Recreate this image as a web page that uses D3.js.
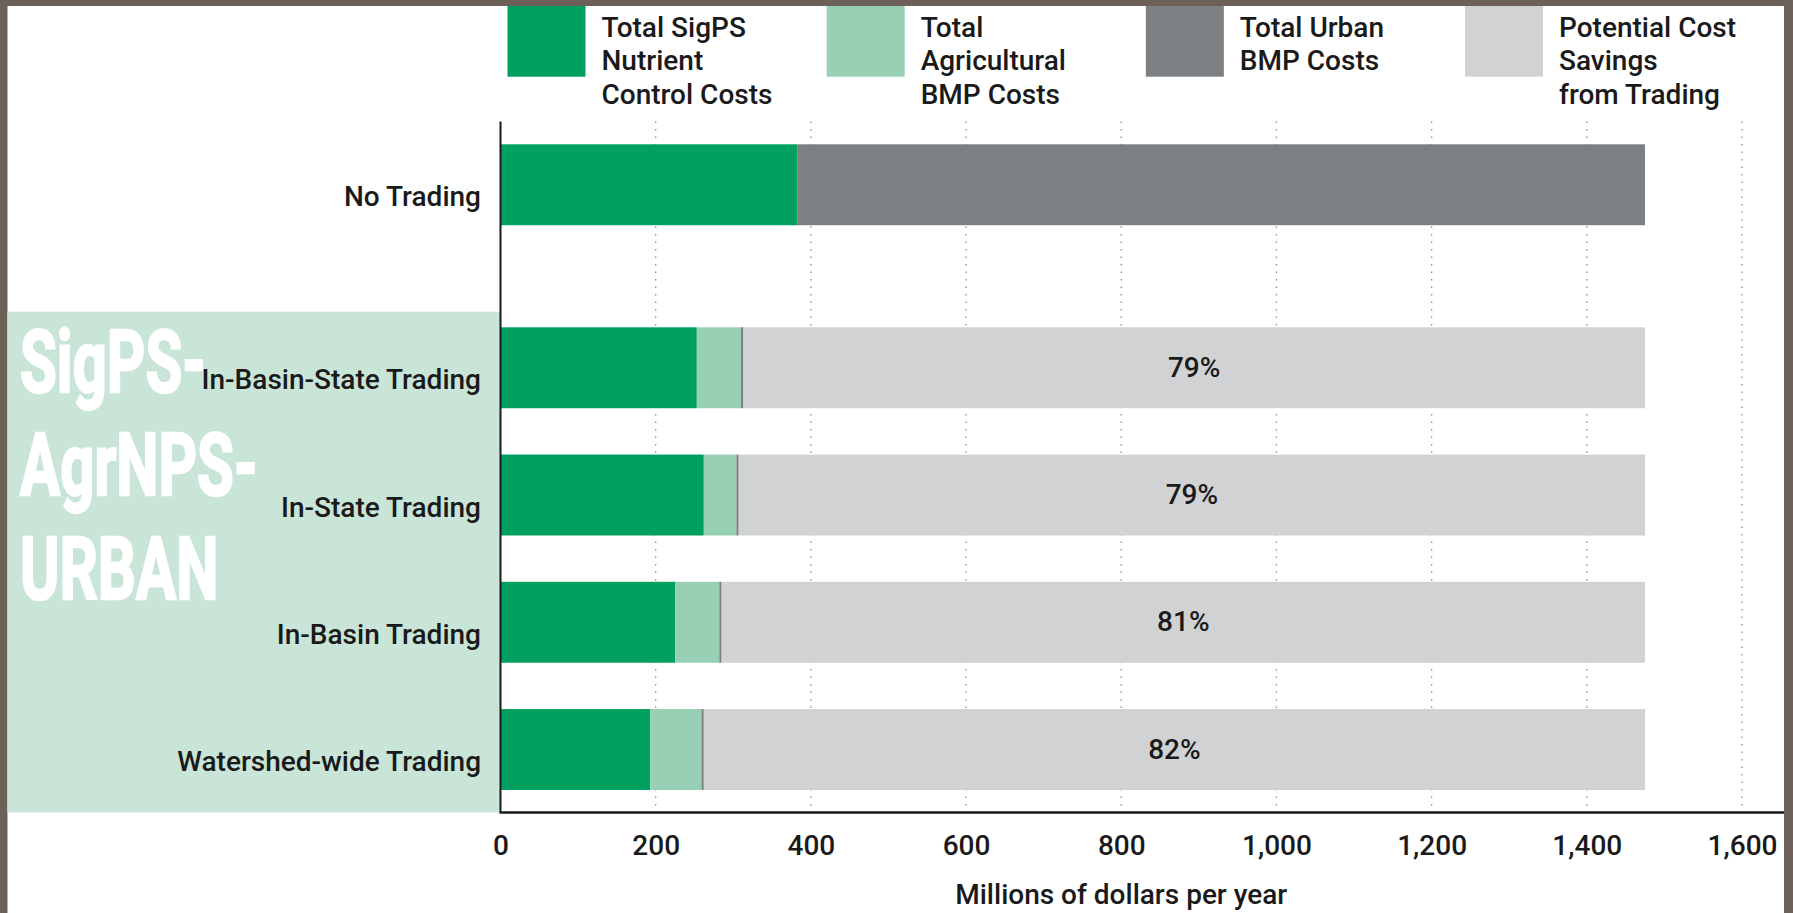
<!DOCTYPE html>
<html>
<head>
<meta charset="utf-8">
<script src="https://cdn.jsdelivr.net/npm/d3@7"></script>
<style>
  html, body { margin: 0; padding: 0; background: #6c6058; }
  svg { display: block; }
</style>
</head>
<body>
<svg id="chart" width="1793" height="913"></svg>
<script>
// ---- data (millions of dollars per year) ----
const scenarios = ["No Trading", "In-Basin-State Trading", "In-State Trading", "In-Basin Trading", "Watershed-wide Trading"];
const sigpsCosts = [383, 253, 262, 225, 193];
const agCosts = [0, 57, 42, 57, 66];
const urbanCosts = [1092, 3, 3, 3, 3];
const savingsFromTrading = [0, 1162, 1168, 1190, 1213];
const seriesKeys = ["sigps", "ag", "urban", "savings"];
const legendLabels = [
  ["Total SigPS", "Nutrient", "Control Costs"],
  ["Total", "Agricultural", "BMP Costs"],
  ["Total Urban", "BMP Costs"],
  ["Potential Cost", "Savings", "from Trading"]
];
const groupTitle = ["SigPS-", "AgrNPS-", "URBAN"];
const xTickValues = [0, 200, 400, 600, 800, 1000, 1200, 1400, 1600];
const axisTitle = "Millions of dollars per year";

// ---- styling ----
const colors = { sigps: "#00a160", ag: "#98d0b5", urban: "#7d8083", savings: "#d0d2d4" };
const FONT = "Roboto, 'Liberation Sans', Arial, sans-serif";
const TEXT_WEIGHT = 500;
const W = 1793, H = 913;
const frame = { left: 7.5, top: 6, right: 1784 };
const plot = { left: 500.5, right: 1742, top: 121.5, bottom: 812.5 };

const rows = scenarios.map((s, i) => ({
  scenario: s,
  sigps: sigpsCosts[i],
  ag: agCosts[i],
  urban: urbanCosts[i],
  savings: savingsFromTrading[i]
}));
const baseline = rows[0];
const tradingRows = rows.slice(1);

const svg = d3.select("#chart");

// page frame
svg.append("rect").attr("width", W).attr("height", H).attr("fill", "#6c6058");
svg.append("rect")
  .attr("x", frame.left).attr("y", frame.top)
  .attr("width", frame.right - frame.left).attr("height", H - frame.top)
  .attr("fill", "#ffffff");

// scales
const x = d3.scaleLinear().domain([0, 1600]).range([plot.left, plot.right]);
const yBase = d3.scaleBand().domain([baseline.scenario]).range([144.3, 225.7]).padding(0);
const yTrade = d3.scaleBand().domain(tradingRows.map(d => d.scenario))
  .range([327.3, 790]).paddingInner(0.364).paddingOuter(0);
const yPos = s => s === baseline.scenario ? yBase(s) : yTrade(s);
const bandH = yTrade.bandwidth();

// shaded panel behind the trading scenarios
svg.append("rect")
  .attr("x", frame.left).attr("y", 311.7)
  .attr("width", plot.left - frame.left).attr("height", plot.bottom - 311.7)
  .attr("fill", "#c8e5d7");

// group title, condensed white lettering
const titleG = svg.append("g")
  .attr("transform", "translate(20,0) scale(0.68,1)");
titleG.selectAll("text").data(groupTitle).join("text")
  .attr("x", 0)
  .attr("y", (d, i) => 392 + i * 103.5)
  .attr("font-family", FONT)
  .attr("font-weight", 700)
  .attr("font-size", 88)
  .attr("fill", "#ffffff")
  .attr("stroke", "#ffffff")
  .attr("stroke-width", 2.5)
  .attr("stroke-linejoin", "miter")
  .text(d => d);

// vertical dotted gridlines
svg.append("g").selectAll("line")
  .data(xTickValues.filter(v => v > 0)).join("line")
  .attr("x1", d => x(d)).attr("x2", d => x(d))
  .attr("y1", plot.top).attr("y2", 807)
  .attr("stroke", "#8c8c8c")
  .attr("stroke-width", 1.3)
  .attr("stroke-dasharray", "1.5 6");

// stacked bars
const stack = d3.stack().keys(seriesKeys);
const layers = stack(rows);
svg.append("g").selectAll("g")
  .data(layers).join("g")
  .attr("fill", d => colors[d.key])
  .selectAll("rect")
  .data(d => d.filter(p => p[1] - p[0] > 0)).join("rect")
  .attr("x", p => x(p[0]))
  .attr("y", p => yPos(p.data.scenario))
  .attr("width", p => x(p[1]) - x(p[0]))
  .attr("height", bandH);

// savings percentage labels, centred on the savings segment
const savingsLayer = layers.find(l => l.key === "savings");
svg.append("g").selectAll("text")
  .data(savingsLayer.filter(p => p[1] - p[0] > 0)).join("text")
  .attr("x", p => (x(p[0]) + x(p[1])) / 2)
  .attr("y", p => yPos(p.data.scenario) + bandH / 2 + 9)
  .attr("text-anchor", "middle")
  .attr("font-family", FONT)
  .attr("font-weight", TEXT_WEIGHT)
  .attr("font-size", 28)
  .attr("fill", "#1a1a1a")
  .text(p => Math.round(p.data.savings / (p[1]) * 100) + "%");

// category labels
svg.append("g").selectAll("text")
  .data(rows).join("text")
  .attr("x", plot.left - 19.5)
  .attr("y", d => yPos(d.scenario) + bandH / 2 + 21.5)
  .attr("text-anchor", "end")
  .attr("font-family", FONT)
  .attr("font-weight", TEXT_WEIGHT)
  .attr("font-size", 28)
  .attr("fill", "#1a1a1a")
  .text(d => d.scenario);

// axis lines
svg.append("line")
  .attr("x1", plot.left).attr("x2", plot.left)
  .attr("y1", plot.top).attr("y2", plot.bottom)
  .attr("stroke", "#1a1a1a").attr("stroke-width", 2);
svg.append("line")
  .attr("x1", plot.left - 1).attr("x2", frame.right)
  .attr("y1", plot.bottom).attr("y2", plot.bottom)
  .attr("stroke", "#1a1a1a").attr("stroke-width", 2.5);

// x axis tick labels
const xAxis = d3.axisBottom(x)
  .tickValues(xTickValues)
  .tickFormat(d3.format(","))
  .tickSize(0)
  .tickPadding(0);
const xAxisG = svg.append("g")
  .attr("transform", `translate(0,${plot.bottom})`)
  .call(xAxis);
xAxisG.select(".domain").remove();
xAxisG.selectAll("text")
  .attr("dy", null)
  .attr("y", 42)
  .attr("font-family", FONT)
  .attr("font-weight", TEXT_WEIGHT)
  .attr("font-size", 28)
  .attr("fill", "#1a1a1a");

// axis title
svg.append("text")
  .attr("x", (plot.left + plot.right) / 2)
  .attr("y", 904)
  .attr("text-anchor", "middle")
  .attr("font-family", FONT)
  .attr("font-weight", TEXT_WEIGHT)
  .attr("font-size", 28)
  .attr("fill", "#1a1a1a")
  .text(axisTitle);

// legend
const legendX = d3.scalePoint().domain(seriesKeys).range([507.5, 1465]);
const legend = svg.append("g").selectAll("g")
  .data(seriesKeys).join("g")
  .attr("transform", d => `translate(${legendX(d)},0)`);
legend.append("rect")
  .attr("x", 0).attr("y", 0)
  .attr("width", 78).attr("height", 76.7)
  .attr("fill", d => colors[d]);
legend.append("text")
  .attr("font-family", FONT)
  .attr("font-weight", TEXT_WEIGHT)
  .attr("font-size", 28)
  .attr("fill", "#1a1a1a")
  .selectAll("tspan")
  .data((d, i) => legendLabels[i]).join("tspan")
  .attr("x", 94)
  .attr("y", (t, j) => 36.7 + j * 33.7)
  .text(t => t);

// top frame strip drawn over the legend swatches
svg.append("rect").attr("x", 0).attr("y", 0).attr("width", W).attr("height", frame.top).attr("fill", "#6c6058");
</script>
</body>
</html>
